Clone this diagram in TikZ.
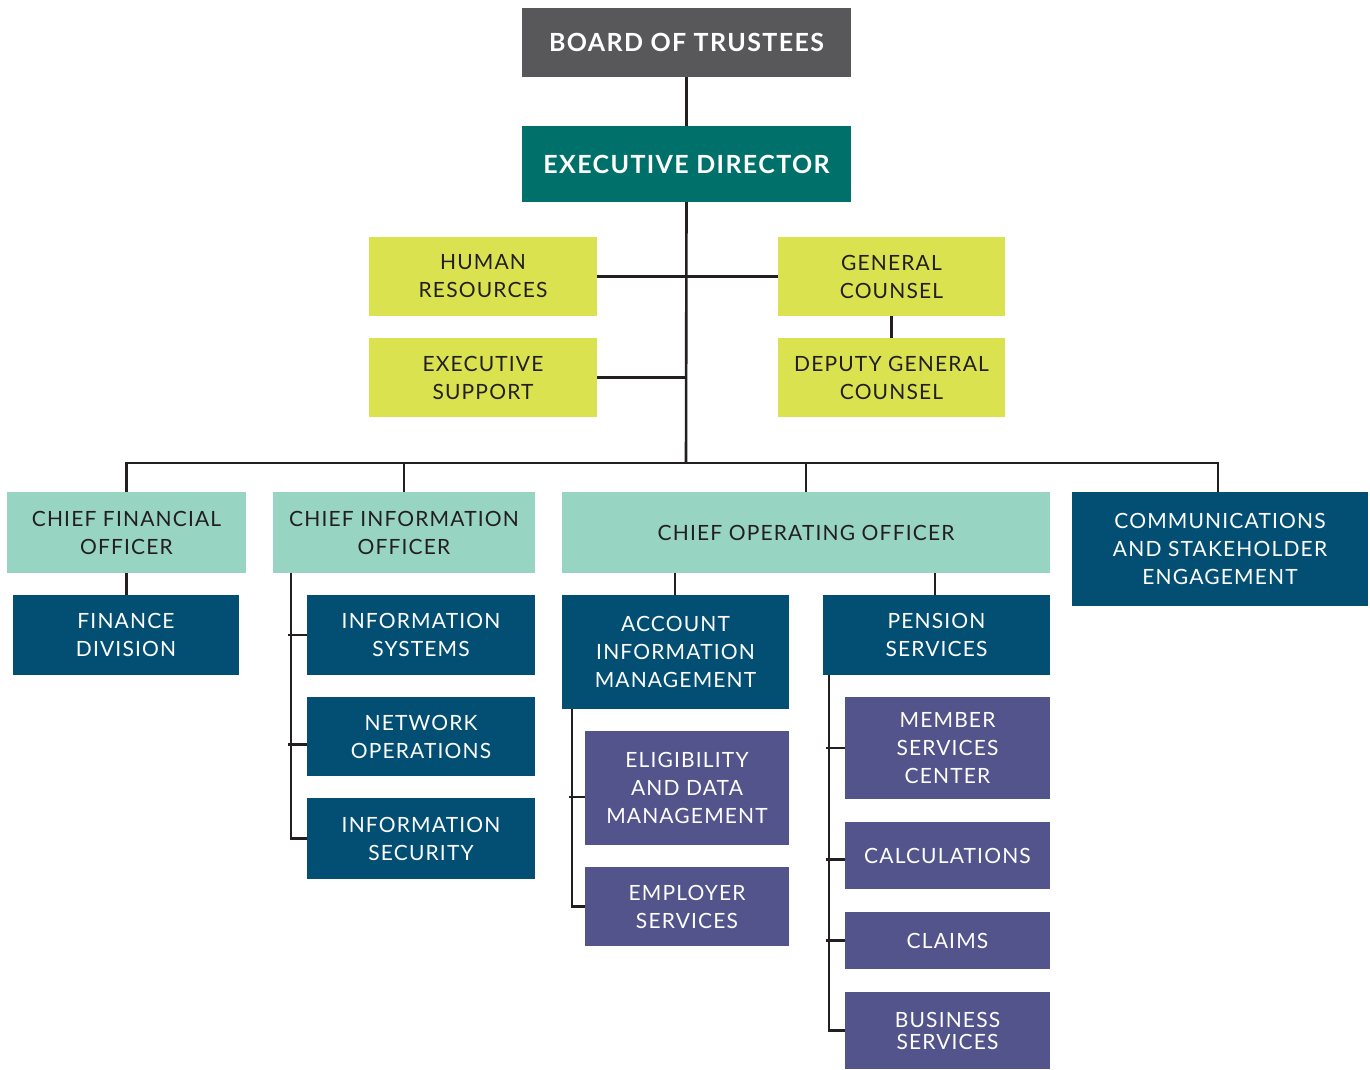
\documentclass[tikz,border=0pt]{standalone}
\usepackage{fontspec}
\setmainfont{Lato}[LetterSpace=5.5]
\definecolor{cgray}{HTML}{58585A}
\definecolor{cteal}{HTML}{00706B}
\definecolor{cyel}{HTML}{DBE24F}
\definecolor{cmint}{HTML}{98D4C2}
\definecolor{cblue}{HTML}{034F74}
\definecolor{cpurp}{HTML}{54548C}
\definecolor{cline}{HTML}{231F20}
\begin{document}
\begin{tikzpicture}[x=1pt,y=-1pt,
  box/.style={rectangle, inner sep=0pt, align=center, font=\fontsize{21}{28}\selectfont},
  topbox/.style={box, fill=#1, text=white, font=\fontsize{25}{30}\bfseries\selectfont},
  litebox/.style={box, fill=#1, text=cline},
  darkbox/.style={box, fill=#1, text=white},
  conn/.style={draw=cline, line width=2.6pt}]
\useasboundingbox (0,0) rectangle (1370,1069);
% top
\node[topbox=cgray, minimum width=329, minimum height=69] (board) at (686.5,42.5) {BOARD OF TRUSTEES};
\node[topbox=cteal, minimum width=329, minimum height=76] (ed) at (686.5,164) {EXECUTIVE DIRECTOR};
% staff
\node[litebox=cyel, minimum width=228, minimum height=79] (hr) at (483,276.5) {HUMAN\\RESOURCES};
\node[litebox=cyel, minimum width=228, minimum height=79] (es) at (483,377.5) {EXECUTIVE\\SUPPORT};
\node[litebox=cyel, minimum width=227, minimum height=79] (gc) at (891.5,276.5) {GENERAL\\COUNSEL};
\node[litebox=cyel, minimum width=227, minimum height=79] (dgc) at (891.5,377.5) {DEPUTY GENERAL\\COUNSEL};
% officers
\node[litebox=cmint, minimum width=239, minimum height=81] (cfo) at (126.5,532.5) {CHIEF FINANCIAL\\OFFICER};
\node[litebox=cmint, minimum width=262, minimum height=81] (cio) at (404,532.5) {CHIEF INFORMATION\\OFFICER};
\node[litebox=cmint, minimum width=488, minimum height=81] (coo) at (806,532.5) {CHIEF OPERATING OFFICER};
\node[darkbox=cblue, minimum width=296, minimum height=114] (comms) at (1220,549) {COMMUNICATIONS\\AND STAKEHOLDER\\ENGAGEMENT};
% divisions
\node[darkbox=cblue, minimum width=226, minimum height=80] (fd) at (126,635) {FINANCE\\DIVISION};
\node[darkbox=cblue, minimum width=228, minimum height=80] (is) at (421,635) {INFORMATION\\SYSTEMS};
\node[darkbox=cblue, minimum width=228, minimum height=79] (no) at (421,736.5) {NETWORK\\OPERATIONS};
\node[darkbox=cblue, minimum width=228, minimum height=81] (isec) at (421,838.5) {INFORMATION\\SECURITY};
\node[darkbox=cblue, minimum width=227, minimum height=114] (aim) at (675.5,652) {ACCOUNT\\INFORMATION\\MANAGEMENT};
\node[darkbox=cblue, minimum width=227, minimum height=80] (ps) at (936.5,635) {PENSION\\SERVICES};
\node[darkbox=cpurp, minimum width=204, minimum height=114] (edm) at (687,788) {ELIGIBILITY\\AND DATA\\MANAGEMENT};
\node[darkbox=cpurp, minimum width=204, minimum height=79] (emps) at (687,906.5) {EMPLOYER\\SERVICES};
\node[darkbox=cpurp, minimum width=205, minimum height=102] (msc) at (947.5,748) {MEMBER\\SERVICES\\CENTER};
\node[darkbox=cpurp, minimum width=205, minimum height=67] (calc) at (947.5,855.5) {CALCULATIONS};
\node[darkbox=cpurp, minimum width=205, minimum height=57] (claims) at (947.5,940.5) {CLAIMS};
\node[darkbox=cpurp, minimum width=205, minimum height=77] (bs) at (947.5,1030.5) {BUSINESS\\[-6pt]SERVICES};
% connectors
\coordinate (bus) at (686,463);
\draw[conn] (board.south) -- (ed.north);
\draw[conn] (ed.south) -- (bus);
\draw[conn] (hr.east) -- (gc.west);
\draw[conn] (es.east) -- (es.east -| ed.south);
\draw[conn] (gc.south) -- (dgc.north);
\draw[conn] (cfo.north) |- (bus) -| ([xshift=-2]comms.north);
\draw[conn] (cio.north) -- (cio.north |- bus);
\draw[conn] (coo.north) -- (coo.north |- bus);
\draw[conn] (cfo.south) -- (cfo.south |- fd.north);
% CIO branch
\coordinate (cioT) at ([xshift=18]cio.south west);
\draw[conn] (cioT) |- (isec.west);
\draw[conn] ([xshift=-3]cioT |- is.west) -- (is.west);
\draw[conn] ([xshift=-3,yshift=-8]cioT |- no.west) -- ([yshift=-8]no.west);
% COO branch
\draw[conn] ([xshift=-131]coo.south) -- ([xshift=-131]coo.south |- aim.north);
\draw[conn] ([xshift=129]coo.south) -- ([xshift=129]coo.south |- ps.north);
\coordinate (aimT) at ([xshift=10]aim.south west);
\draw[conn] (aimT) |- (emps.west);
\draw[conn] ([xshift=-3,yshift=-9]aimT |- edm.west) -- ([yshift=-9]edm.west);
\coordinate (psT) at ([xshift=6]ps.south west);
\draw[conn] (psT) |- (bs.west);
\draw[conn] ([xshift=-3]psT |- msc.west) -- (msc.west);
\draw[conn] ([xshift=-3,yshift=-4]psT |- calc.west) -- ([yshift=-4]calc.west);
\draw[conn] ([xshift=-3]psT |- claims.west) -- (claims.west);
\end{tikzpicture}
\end{document}
